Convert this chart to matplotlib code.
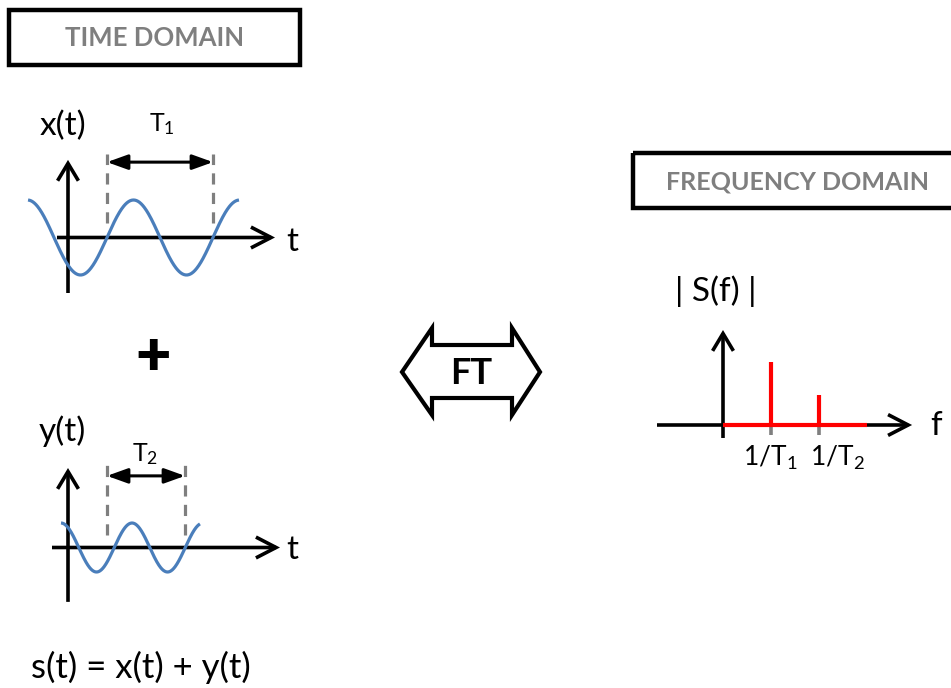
import numpy as np
import matplotlib.pyplot as plt
from matplotlib.patches import FancyArrowPatch, Rectangle, Polygon, ArrowStyle

plt.rcParams['font.family'] = ['Lato', 'DejaVu Sans']
plt.rcParams['mathtext.default'] = 'regular'

W, H = 951, 688

# ---------------- data ----------------
T1 = 1.0                 # period of x(t)
A1 = 1.0                 # amplitude of x(t)
x_rise = 0.368           # rising zero crossing of x(t)
x_t_range = (-0.377, 1.613)
T1_marks = [0.368, 1.368]

T2 = 0.67                # period of y(t)
A2 = 0.653               # amplitude of y(t)
y_peak = 0.604
y_t_range = (-0.066, 1.245)
T2_marks = [0.368, 1.104]

spec_freqs = [1.0, 2.0]
spec_mags = [1.0, 0.48]
spec_labels = ['$1/T_1$', '$1/T_2$']
f_max = 3.0

BLUE = '#4A7EBB'
GRAY = '#7F7F7F'
RED = '#FF0000'

fig = plt.figure(figsize=(W / 100, H / 100), dpi=100)
main = fig.add_axes([0, 0, 1, 1])
main.set_xlim(0, W)
main.set_ylim(H, 0)
main.axis('off')


def panel(ox, oy, sx, sy, x0, y0, x1, y1):
    a = fig.add_axes([x0 / W, 1 - y1 / H, (x1 - x0) / W, (y1 - y0) / H])
    a.set_xlim((x0 - ox) / sx, (x1 - ox) / sx)
    a.set_ylim((oy - y1) / sy, (oy - y0) / sy)
    a.axis('off')
    return a


def chevron(a, p0, p1, hl=1.45, hw=0.75):
    st = ArrowStyle('->', head_length=hl, head_width=hw)
    arr = FancyArrowPatch(p0, p1, arrowstyle=st, mutation_scale=10, lw=2.6,
                          color='black', shrinkA=0, shrinkB=0, clip_on=False,
                          capstyle='butt', joinstyle='miter')
    a.add_patch(arr)


def dbl(a, p0, p1):
    st = ArrowStyle('<|-|>', head_length=1.25, head_width=0.45)
    arr = FancyArrowPatch(p0, p1, arrowstyle=st, mutation_scale=10, lw=2.2,
                          color='black', shrinkA=0, shrinkB=0, clip_on=False)
    a.add_patch(arr)


# ---------------- x(t) panel ----------------
ax1 = panel(68, 237.5, 106, 37.5, 0, 140, 300, 310)
chevron(ax1, (-0.104, 0), (1.953, 0))
chevron(ax1, (0, -1.48), (0, 2.07), hl=1.25)
t = np.linspace(*x_t_range, 400)
ax1.plot(t, A1 * np.sin(2 * np.pi * (t - x_rise) / T1), color=BLUE, lw=2.3,
         solid_capstyle='butt')
for m in T1_marks:
    ax1.plot([m, m], [0.387, 2.23], color=GRAY, lw=2.3, dashes=(3.5, 2.6))
dbl(ax1, (T1_marks[0], 2.01), (T1_marks[1], 2.01))

# ---------------- y(t) panel ----------------
ax2 = panel(68, 547.5, 106, 37.5, 0, 450, 300, 620)
chevron(ax2, (-0.151, 0), (2.0, 0))
chevron(ax2, (0, -1.45), (0, 2.12), hl=1.25)
t2 = np.linspace(*y_t_range, 400)
ax2.plot(t2, A2 * np.cos(2 * np.pi * (t2 - y_peak) / T2), color=BLUE, lw=2.3,
         solid_capstyle='butt')
for m in T2_marks:
    ax2.plot([m, m], [0.33, 2.25], color=GRAY, lw=2.3, dashes=(3.5, 2.6))
dbl(ax2, (T2_marks[0], 1.91), (T2_marks[1], 1.91))

# ---------------- spectrum panel ----------------
ax3 = panel(723, 425, 48, 63, 640, 310, 951, 450)
chevron(ax3, (-1.375, 0), (3.94, 0))
chevron(ax3, (0, -0.206), (0, 1.508), hl=1.25)
for f in spec_freqs:
    ax3.plot([f, f], [0, -0.159], color=GRAY, lw=2.6, solid_capstyle='butt')
ax3.plot([0, f_max], [0, 0], color=RED, lw=3.0, solid_capstyle='butt')
ax3.vlines(spec_freqs, 0, spec_mags, color=RED, lw=3.0)

# ---------------- boxes and labels ----------------
main.add_patch(Rectangle((9, 10), 291, 55, fill=False, lw=3.2, ec='black',
                         joinstyle='miter'))
main.text(155, 38, 'TIME DOMAIN', ha='center', va='center', fontsize=18.5,
          fontweight='bold', color=GRAY)
main.add_patch(Rectangle((633, 153), 340, 55, fill=False, lw=3.2, ec='black',
                         joinstyle='miter', clip_on=False))
main.text(797, 182, 'FREQUENCY DOMAIN', ha='center', va='center',
          fontsize=18, fontweight='bold', color=GRAY)

fs = 24
main.text(63, 126, 'x(t)', ha='center', va='center', fontsize=fs)
main.text(162, 124, '$T_1$', ha='center', va='center', fontsize=18)
main.text(292, 242, 't', ha='center', va='center', fontsize=fs)
main.text(153, 357, '+', ha='center', va='center', fontsize=44,
          fontweight='heavy')
main.text(62, 431, 'y(t)', ha='center', va='center', fontsize=fs)
main.text(145, 454, '$T_2$', ha='center', va='center', fontsize=18)
main.text(292, 550, 't', ha='center', va='center', fontsize=fs)
main.text(141, 667, 's(t) = x(t) + y(t)', ha='center', va='center',
          fontsize=25)
main.text(716, 291, '| S(f) |', ha='center', va='center', fontsize=fs)
main.text(936, 426, 'f', ha='center', va='center', fontsize=fs)
label_dx = [-28, -9]
for lbl, f, dx in zip(spec_labels, spec_freqs, label_dx):
    main.text(723 + 48 * f + dx, 458, lbl, ha='left', va='center',
              fontsize=19)

# FT block double arrow
ft_pts = [(402, 372), (432, 328), (432, 345), (512, 345), (512, 328),
          (540, 372), (512, 415), (512, 398), (432, 398), (432, 415)]
main.add_patch(Polygon(ft_pts, closed=True, fill=False, lw=3.0, ec='black',
                       joinstyle='miter'))
main.text(471, 373, 'FT', ha='center', va='center', fontsize=26,
          fontweight='bold')

fig.savefig('out.png', dpi=100)
